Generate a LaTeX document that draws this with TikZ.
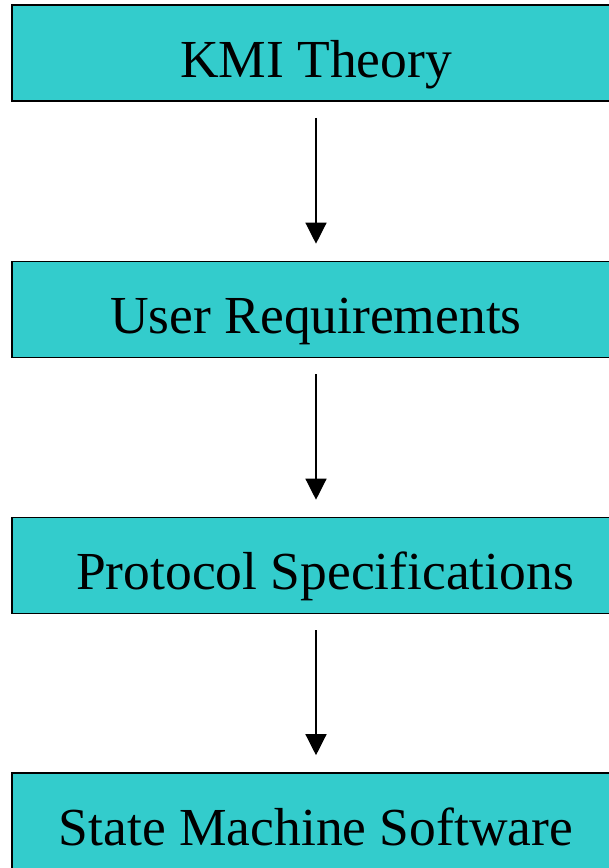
\documentclass[tikz,border=0pt]{standalone}
\usepackage{fontspec}
\setmainfont{Liberation Serif}
\usetikzlibrary{arrows.meta}
\definecolor{stagecyan}{RGB}{51,204,204}
\begin{document}
\begin{tikzpicture}[x=1pt,y=1pt]
    \tikzstyle{every node}+=[inner sep=0pt]
    \tikzstyle{stage}=[draw=black, line width=1.6pt, fill=stagecyan, minimum width=608pt, minimum height=96pt, text height=60pt, text depth=12pt, font=\fontsize{53.5}{60}\selectfont]
    \tikzstyle{flow}=[line width=1.3pt, -{Triangle[width=21pt,length=21pt]}, shorten <=16pt, shorten >=17pt]
    \useasboundingbox (0,0) rectangle (609,-868);
    \node [stage] (kmi) at (316,-53) {KMI Theory};
    \node [stage] (user) at (316,-309.5) {User Requirements};
    \node [stage] (proto) at (316,-565.5) {\hspace{18pt}Protocol Specifications};
    \node [stage] (fsm) at (316,-821) {State Machine Software};
    \draw [flow] (kmi.south) -- (user.north);
    \draw [flow] (user.south) -- (proto.north);
    \draw [flow] (proto.south) -- (fsm.north);
\end{tikzpicture}
\end{document}
